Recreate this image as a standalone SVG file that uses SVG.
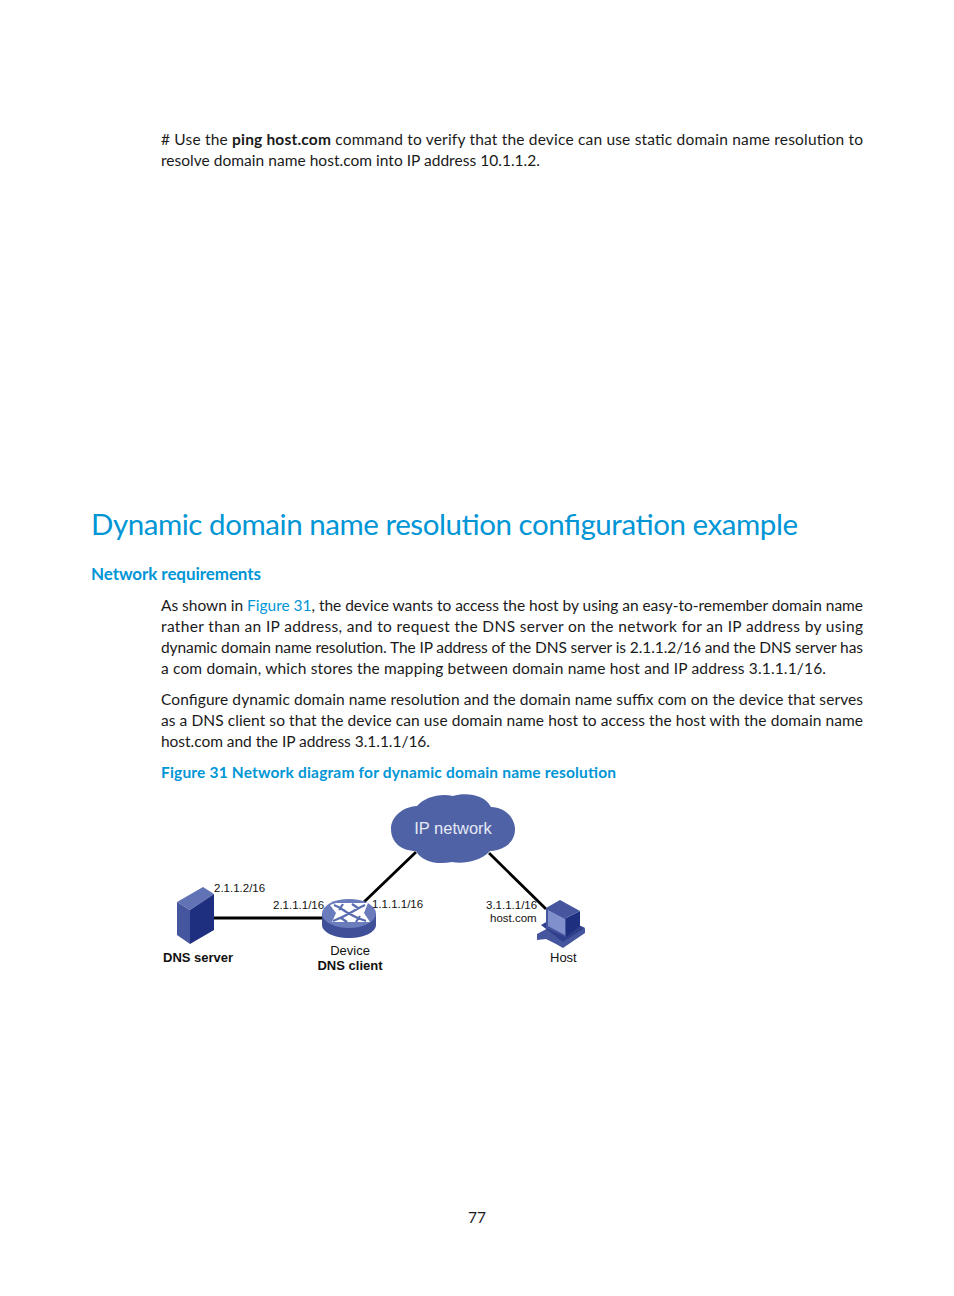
<svg xmlns="http://www.w3.org/2000/svg" width="954" height="1296" viewBox="0 0 954 1296">
<style>
text{font-family:"Lato","Open Sans",sans-serif}
.b{font-size:15.5px;fill:#1a1a1a}
.l{fill:#0096d6}
.d{font-family:"Liberation Sans",Arial,sans-serif;font-size:11.5px;fill:#111}
.n{font-family:"Liberation Sans",Arial,sans-serif;font-size:13px;fill:#111}
.nb{font-family:"Liberation Sans",Arial,sans-serif;font-size:13px;font-weight:bold;fill:#111}
.cl{font-family:"Liberation Sans",Arial,sans-serif;font-size:16.500px;fill:#e6e9f5}
.c{stroke:#000;fill:none}
</style>
<rect width="954" height="1296" fill="#fff"/>
<g id="page-text">
<text class="b" x="161" y="145" textLength="702" lengthAdjust="spacing"># Use the <tspan font-weight="bold">ping host.com</tspan> command to verify that the device can use static domain name resolution to</text>
<text class="b" x="161" y="166" textLength="379" lengthAdjust="spacing">resolve domain name host.com into IP address 10.1.1.2.</text>
<text x="91" y="535" font-size="29.500" fill="#0096d6" textLength="707" lengthAdjust="spacing">Dynamic domain name resolution configuration example</text>
<text x="91" y="580" font-size="17" font-weight="bold" fill="#0096d6" textLength="170" lengthAdjust="spacing">Network requirements</text>
<text class="b" x="161" y="611" textLength="702" lengthAdjust="spacing">As shown in <tspan class="l">Figure 31</tspan>, the device wants to access the host by using an easy-to-remember domain name</text>
<text class="b" x="161" y="632" textLength="702" lengthAdjust="spacing">rather than an IP address, and to request the DNS server on the network for an IP address by using</text>
<text class="b" x="161" y="653" textLength="702" lengthAdjust="spacing">dynamic domain name resolution. The IP address of the DNS server is 2.1.1.2/16 and the DNS server has</text>
<text class="b" x="161" y="674" textLength="665" lengthAdjust="spacing">a com domain, which stores the mapping between domain name host and IP address 3.1.1.1/16.</text>
<text class="b" x="161" y="705" textLength="702" lengthAdjust="spacing">Configure dynamic domain name resolution and the domain name suffix com on the device that serves</text>
<text class="b" x="161" y="726" textLength="702" lengthAdjust="spacing">as a DNS client so that the device can use domain name host to access the host with the domain name</text>
<text class="b" x="161" y="747" textLength="269" lengthAdjust="spacing">host.com and the IP address 3.1.1.1/16.</text>
<text x="161" y="778" font-size="15.500" font-weight="bold" fill="#0096d6" textLength="455" lengthAdjust="spacing">Figure 31 Network diagram for dynamic domain name resolution</text>
<text x="477" y="1223" font-size="15.500" fill="#1a1a1a" text-anchor="middle">77</text>
</g>
<g id="connectors">
<path class="c" stroke-width="3.200" d="M213 918H325"/>
<path class="c" stroke-width="2.800" d="M364 902L416 852"/>
<path class="c" stroke-width="2.800" d="M489 853L546 909"/>
</g>
<g id="cloud">
<path fill="#4f62a6" d="M417 806C425 797 440 793 453 796C465 792 485 794 491 807C505 807 515 818 515 829C515 842 505 850 490 851C480 862 462 864 452 862C438 865 422 862 416 851C401 851 391 842 391 829C391 817 402 807 417 806Z"/>
<text class="cl" x="453" y="834" text-anchor="middle">IP network</text>
</g>
<g id="dns-server">
<path fill="#6273b5" d="M177 902L203 887L214 894L190 910Z"/>
<path fill="#1f2f80" d="M190 910L214 894V930L190 944Z"/>
<path fill="#46569e" d="M177 902L190 910V944L177 935Z"/>
<text class="d" x="214" y="892">2.1.1.2/16</text>
<text class="nb" x="163" y="962">DNS server</text>
</g>
<g id="device">
<path fill="#3f4f98" d="M322 913V925C322 932 334 938 349 938C364 938 376 932 376 925V913Z"/>
<ellipse cx="349" cy="913.500" rx="27" ry="14.500" fill="#6a7cbc"/>
<path fill="#fff" d="M336 903H368L364 913L370 922H332L336 913L330 905Z"/>
<path fill="none" stroke="#5a6cb0" stroke-width="2.200" d="M334 905C342 908 344 911 348 913C353 916 356 918 366 921M365 905C358 908 354 911 350 913C345 916 341 918 333 921M343 904L339 910M356 922L360 916M352 904L358 908M347 922L341 918"/>
<text class="d" x="273" y="909">2.1.1.1/16</text>
<text class="d" x="372" y="908">1.1.1.1/16</text>
<text class="n" x="350" y="955" text-anchor="middle">Device</text>
<text class="nb" x="350" y="970" text-anchor="middle">DNS client</text>
</g>
<g id="host">
<path fill="#46569e" d="M537 934L552 926L572 934L585 928V933L563 948L556 944L546 939L537 940Z"/>
<path fill="#2f3f8c" d="M541 925L548 921L581 926L585 928L563 942Z"/>
<path fill="#1f2f80" d="M566 918L580 911V926L566 937Z"/>
<path fill="#46569e" d="M546 908L560 900L580 911L566 918V937L546 928Z"/>
<path fill="#8090cc" d="M548 910L565 919V935L548 926Z"/>
<text class="d" x="486" y="909">3.1.1.1/16</text>
<text class="d" x="490" y="922">host.com</text>
<text class="n" x="550" y="962">Host</text>
</g>
</svg>
